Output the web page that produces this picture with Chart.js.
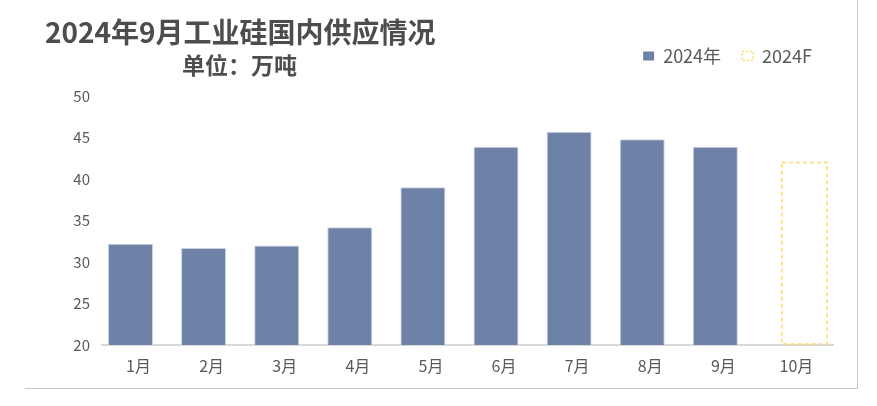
<!DOCTYPE html>
<html>
<head>
<meta charset="utf-8">
<script src="https://cdn.jsdelivr.net/npm/chart.js@4"></script>
<style>
  html, body { margin:0; padding:0; background:#fff; }
  #wrap { position:relative; width:877px; height:406px; font-family:"Noto Sans CJK SC", sans-serif; }
  #frameR { position:absolute; left:857px; top:0; width:1px; height:389px; background:#c8c8c8; }
  #frameB { position:absolute; left:25px; top:388px; width:833px; height:1px; background:#c8c8c8; }
  .Titulo { position:absolute; left:45px; top:11px; font-size:28px; font-weight:bold; color:#4d4d4d; white-space:nowrap; }
  .Unidad { position:absolute; left:182px; top:47px; font-size:23px; font-weight:bold; color:#4d4d4d; white-space:nowrap; }
  canvas { position:absolute; left:0; top:0; }
</style>
</head>
<body>
<div id="wrap">
  <canvas id="GraficaSilicio" width="877" height="406"></canvas>
  <div class="Titulo">2024年9月工业硅国内供应情况</div>
  <div class="Unidad">单位：万吨</div>
  <div id="frameR"></div>
  <div id="frameB"></div>
</div>
<script>
var Meses = ["1月","2月","3月","4月","5月","6月","7月","8月","9月","10月"];
var Real2024 = [32.2, 31.7, 32.0, 34.2, 39.0, 43.9, 45.7, 44.8, 43.9, null];
var Pronostico2024 = [null, null, null, null, null, null, null, null, null, 42.0];
var TicksY = [20, 25, 30, 35, 40, 45, 50];

var Fuente = '"Noto Sans CJK SC", sans-serif';
var AmarilloF = '#ffd966';

// separa la leyenda del area de la grafica
var EspacioLeyenda = {
    id: 'espacioLeyenda',
    beforeInit: function (chart) {
        var fit = chart.legend.fit;
        chart.legend.fit = function () {
            fit.bind(chart.legend)();
            this.height += 21;
        };
    }
};

// las barras no tienen borde punteado, se dibuja encima del elemento
var BordePunteado = {
    id: 'bordePunteado',
    afterDatasetsDraw: function (chart) {
        var meta = chart.getDatasetMeta(1);
        var area = chart.chartArea;
        var c = chart.ctx;
        c.save();
        c.strokeStyle = AmarilloF;
        c.lineWidth = 1.5;
        c.setLineDash([4, 3]);
        meta.data.forEach(function (bar, i) {
            if (Pronostico2024[i] === null) return;
            var p = bar.getProps(['x', 'y', 'base', 'width'], true);
            var base = Math.min(p.base, area.bottom - 1);
            c.strokeRect(p.x - p.width / 2, p.y, p.width, base - p.y);
        });
        c.restore();
    }
};

// series agrupadas con mucho traslape, como en el original
var AnchoBarra = 2.8;
var AnchoCategoria = 0.44;

var ctx = document.getElementById("GraficaSilicio");
var grafica = new Chart(ctx, {
    type: 'bar',
    data: {
        labels: Meses,
        datasets: [
            {
                label: "2024年",
                data: Real2024,
                backgroundColor: '#6e81a6',
                borderColor: '#c9d2e3',
                borderWidth: 1,
                barPercentage: AnchoBarra,
                categoryPercentage: AnchoCategoria
            },
            {
                label: "2024F",
                data: Pronostico2024,
                backgroundColor: 'rgba(255,255,255,0)',
                borderColor: AmarilloF,
                borderWidth: 0,
                barPercentage: AnchoBarra,
                categoryPercentage: AnchoCategoria
            }
        ]
    },
    options: {
        responsive: false,
        animation: false,
        layout: { padding: { left: 60, right: 44, top: 26, bottom: 21 } },
        plugins: {
            tooltip: { enabled: false },
            legend: {
                position: 'top',
                align: 'end',
                labels: {
                    boxWidth: 11,
                    boxHeight: 9,
                    padding: 21,
                    color: '#595959',
                    font: { family: Fuente, size: 18 },
                    generateLabels: function (chart) {
                        var items = Chart.defaults.plugins.legend.labels.generateLabels(chart);
                        items[0].lineWidth = 0;
                        items[1].strokeStyle = AmarilloF;
                        items[1].fillStyle = 'rgba(255,255,255,0)';
                        items[1].lineWidth = 1.5;
                        items[1].lineDash = [2, 2];
                        return items;
                    }
                }
            }
        },
        scales: {
            x: {
                grid: { display: false, drawTicks: false },
                border: { color: '#d9d9d9', width: 2 },
                ticks: { color: '#595959', padding: 11, font: { family: Fuente, size: 16 } },
                afterFit: function (scale) { scale.height = 40; }
            },
            y: {
                min: 20,
                max: 50,
                grid: { display: false, drawTicks: false },
                border: { display: false },
                afterBuildTicks: function (scale) {
                    scale.ticks = TicksY.map(function (v) { return { value: v }; });
                },
                ticks: { color: '#595959', padding: 12, font: { family: Fuente, size: 15 } },
                afterFit: function (scale) { scale.width = 42; }
            }
        }
    },
    plugins: [EspacioLeyenda, BordePunteado]
});
</script>
</body>
</html>
